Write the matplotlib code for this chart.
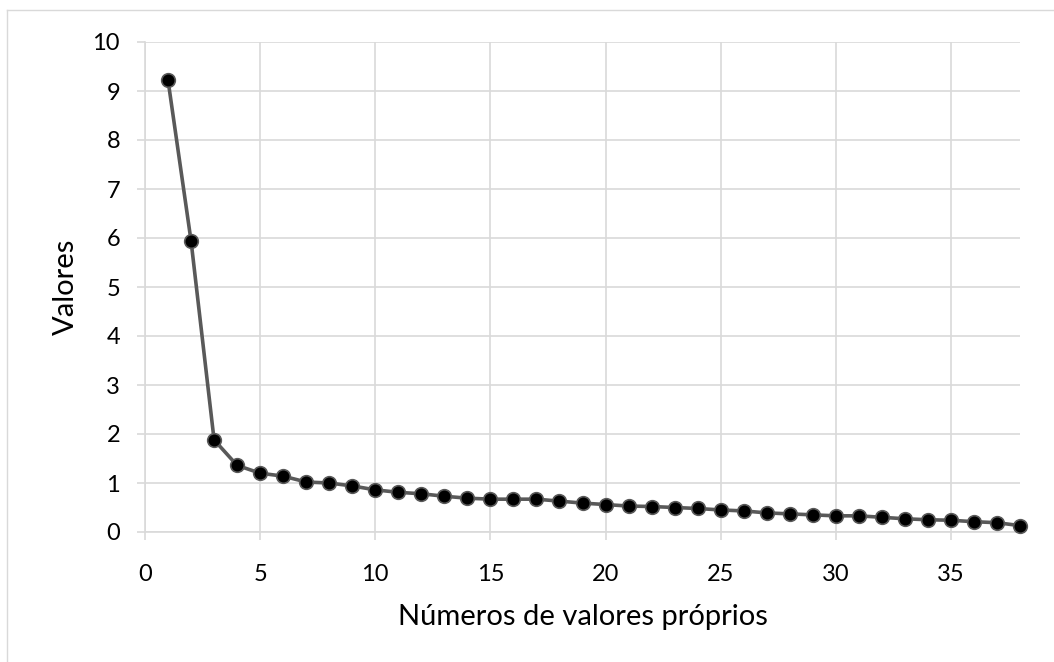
import matplotlib.pyplot as plt
from matplotlib.lines import Line2D

# eigenvalue number vs value (scree plot)
componentes = list(range(1, 39))
valores = [9.22, 5.94, 1.88, 1.36, 1.20, 1.14, 1.02, 1.00, 0.94, 0.86,
           0.81, 0.78, 0.73, 0.69, 0.67, 0.67, 0.67, 0.63, 0.59, 0.56,
           0.53, 0.52, 0.50, 0.48, 0.45, 0.43, 0.39, 0.37, 0.35, 0.33,
           0.33, 0.30, 0.27, 0.25, 0.24, 0.21, 0.19, 0.13]
x_ticks = [0, 5, 10, 15, 20, 25, 30, 35]
y_ticks = list(range(0, 11))

plt.rcParams['font.family'] = ['Lato', 'DejaVu Sans']
GRID = '#d9d9d9'

fig = plt.figure(figsize=(10.54, 6.62), dpi=100)
ax = fig.add_axes([145/1054, 1 - 532/662, (1020 - 145)/1054, (532 - 42)/662])

ax.plot(componentes, valores, color='#595959', linewidth=2.6, marker='o',
        markersize=9.8, markerfacecolor='black', markeredgecolor='#595959',
        markeredgewidth=1.2, zorder=3, clip_on=False)

ax.set_xlim(0, 38)
ax.set_ylim(0, 10)
ax.set_xticks(x_ticks)
ax.set_yticks(y_ticks)
ax.grid(True, color=GRID, linewidth=1.2)
ax.set_axisbelow(True)
for side in ['top', 'right']:
    ax.spines[side].set_visible(False)
for side in ['left', 'bottom']:
    ax.spines[side].set_color(GRID)
    ax.spines[side].set_linewidth(1.2)
ax.tick_params(axis='both', colors=GRID, length=6, width=1.2,
               labelsize=17, labelcolor='black')
ax.tick_params(axis='y', pad=12)
ax.tick_params(axis='x', pad=17)

ax.set_xlabel('Números de valores próprios', fontsize=21, labelpad=14)
ax.set_ylabel('Valores', fontsize=21, labelpad=10)

# chart-area border (only top and left edges show in the crop)
fig.add_artist(Line2D([7/1054, 1], [1 - 10/662, 1 - 10/662],
                      transform=fig.transFigure, color=GRID, linewidth=1))
fig.add_artist(Line2D([7/1054, 7/1054], [0, 1 - 10/662],
                      transform=fig.transFigure, color=GRID, linewidth=1))

fig.savefig('out.png', dpi=100)
